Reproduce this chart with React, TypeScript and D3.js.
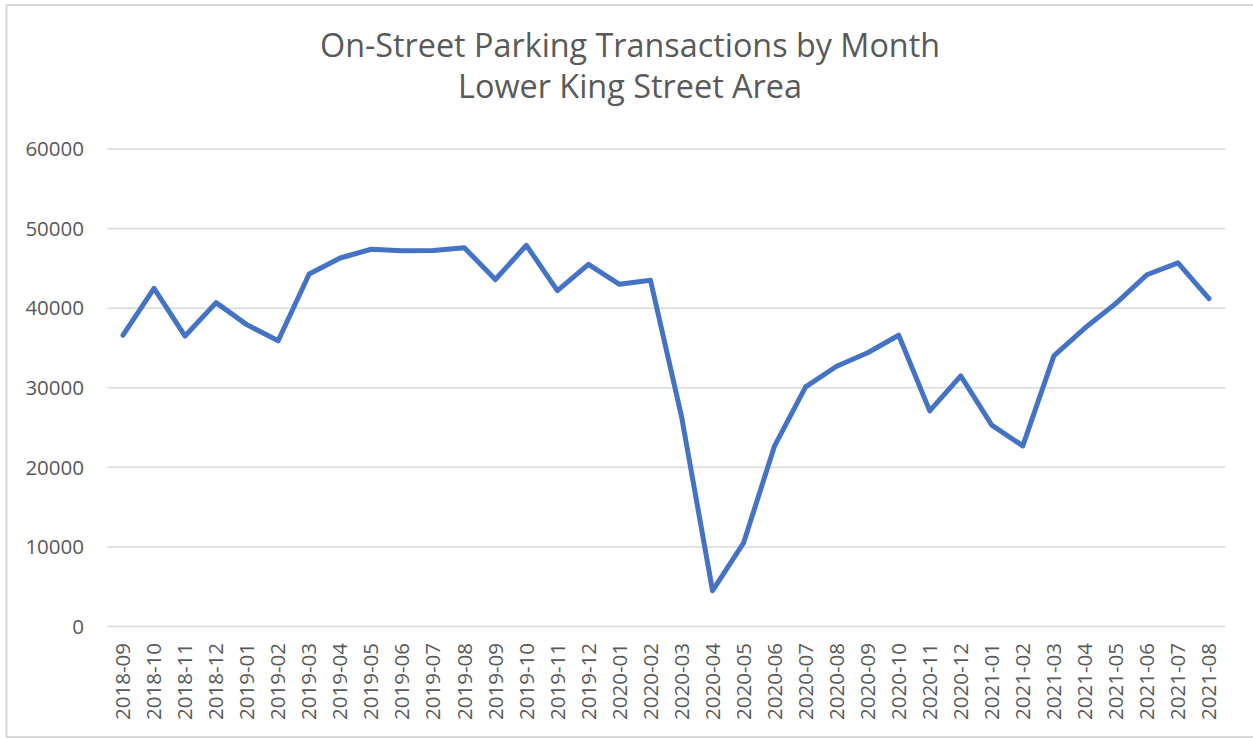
import React from "react";
import * as d3 from "d3";

const months = [
  "2018-09", "2018-10", "2018-11", "2018-12",
  "2019-01", "2019-02", "2019-03", "2019-04", "2019-05", "2019-06",
  "2019-07", "2019-08", "2019-09", "2019-10", "2019-11", "2019-12",
  "2020-01", "2020-02", "2020-03", "2020-04", "2020-05", "2020-06",
  "2020-07", "2020-08", "2020-09", "2020-10", "2020-11", "2020-12",
  "2021-01", "2021-02", "2021-03", "2021-04", "2021-05", "2021-06",
  "2021-07", "2021-08",
];

const transactions = [
  36600, 42500, 36500, 40700,
  37900, 35900, 44300, 46300, 47400, 47200,
  47250, 47600, 43600, 47900, 42200, 45500,
  43000, 43500, 26400, 4500, 10500, 22700,
  30100, 32700, 34400, 36600, 27100, 31500,
  25300, 22700, 34000, 37500, 40600, 44200,
  45700, 41200,
];

const yTicks = [0, 10000, 20000, 30000, 40000, 50000, 60000];

const titleLines = ["On-Street Parking Transactions by Month", "Lower King Street Area"];

const W = 1253;
const H = 739;
const plot = { left: 107.5, right: 1224.5, top: 149, bottom: 626.5 };
const FONT = "'Open Sans', 'Noto Sans', sans-serif";
const TEXT = "#595959";
const GRID = "#d9d9d9";

export default function App() {
  const x = d3.scaleBand<string>().domain(months).range([plot.left, plot.right]);
  const y = d3.scaleLinear().domain([0, 60000]).range([plot.bottom, plot.top]);
  const cx = (m: string) => (x(m) as number) + x.bandwidth() / 2;

  const line = d3
    .line<number>()
    .x((_, i) => cx(months[i]))
    .y((d) => y(d));

  return (
    <svg
      width={W}
      height={H}
      style={{ position: "absolute", left: 0, top: 0, background: "#fff" }}
      fontFamily={FONT}
    >
      <rect x={0} y={0} width={W} height={H} fill="#fff" />
      <rect x={6.5} y={5} width={W + 20} height={732} fill="none" stroke={GRID} strokeWidth={2} />

      <text x={630} y={57} textAnchor="middle" fontSize={32} fill={TEXT} textLength={620} lengthAdjust="spacingAndGlyphs">
        {titleLines[0]}
      </text>
      <text x={630} y={98} textAnchor="middle" fontSize={32} fill={TEXT} textLength={344} lengthAdjust="spacingAndGlyphs">
        {titleLines[1]}
      </text>

      {yTicks.map((t) => (
        <g key={t}>
          <line x1={plot.left} x2={plot.right + 1} y1={y(t)} y2={y(t)} stroke={GRID} strokeWidth={1.5} />
          <text x={84} y={y(t)} dy="0.35em" textAnchor="end" fontSize={20.5} fill={TEXT}>
            {t}
          </text>
        </g>
      ))}

      {months.map((m) => (
        <text
          key={m}
          transform={`translate(${cx(m)},643) rotate(-90)`}
          dy="0.35em"
          textAnchor="end"
          fontSize={20.5}
          fill={TEXT}
        >
          {m}
        </text>
      ))}

      <path
        d={line(transactions) || ""}
        fill="none"
        stroke="#4472C4"
        strokeWidth={5}
        strokeLinejoin="round"
        strokeLinecap="round"
      />
    </svg>
  );
}
